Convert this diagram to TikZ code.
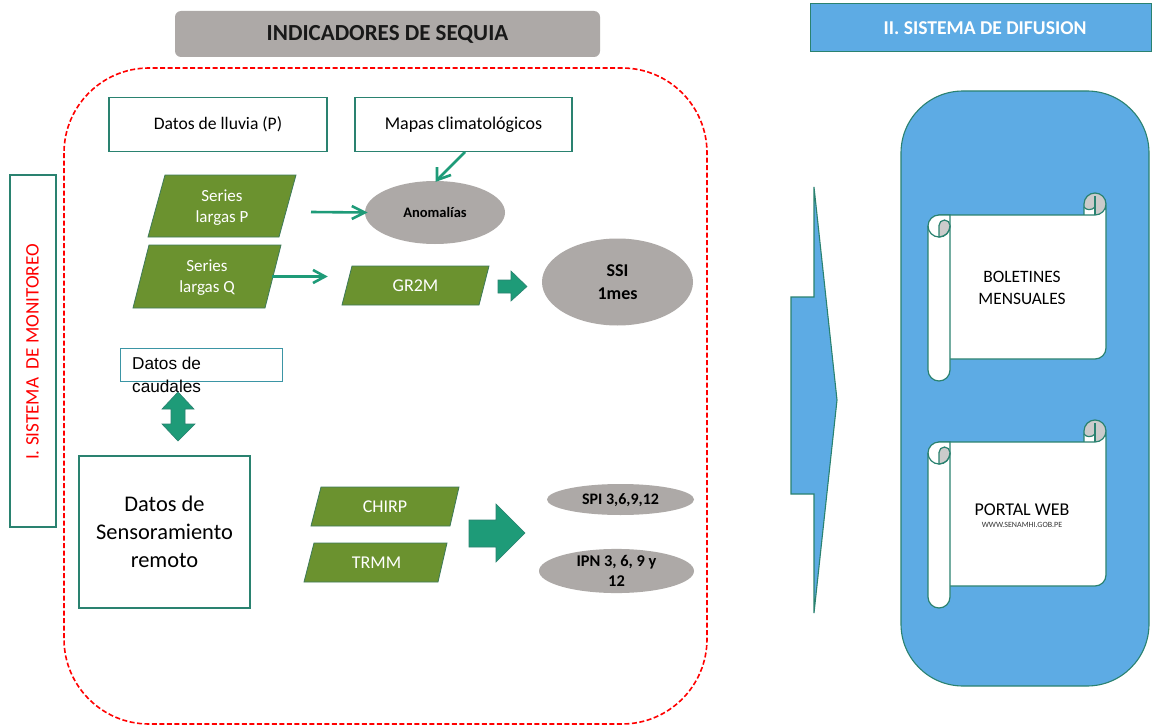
\documentclass[tikz,border=0pt]{standalone}
\usepackage{fontspec}
\setmainfont{Carlito}
\newfontfamily\arialf{Liberation Sans}
\usetikzlibrary{shapes.geometric}
\definecolor{tealline}{HTML}{2A8270}
\definecolor{teal2}{HTML}{1E9B78}
\definecolor{greenfill}{HTML}{6B922F}
\definecolor{greenline}{HTML}{3E7A5A}
\definecolor{greyfill}{HTML}{ADA9A7}
\definecolor{bluefill}{HTML}{5DABE4}
\definecolor{rollgrey}{HTML}{CBCBCB}
\definecolor{caudline}{HTML}{3B95A5}
\tikzset{
  x=1pt,y=-1pt,
  boxw/.style={draw=tealline,fill=white,line width=1.2pt,align=center,text=black},
  para/.style={draw=greenline,fill=greenfill,line width=.8pt},
  paralabel/.style={text=white,align=center,font=\fontsize{17}{21}\selectfont},
  oval/.style={shape=ellipse,fill=greyfill,inner sep=0pt,align=center,text=black},
  flow/.style={draw=teal2,line width=2.6pt},
  block/.style={draw=tealline,fill=teal2,line width=.6pt},
  rollline/.style={draw=tealline,line width=1.2pt},
}
% angles below: y axis points down, so 270 is up on the page
\newcommand{\scrollat}[2]{%
  \begin{scope}[shift={(#1,#2)}]
    % top right roll
    \fill[rollgrey] (167,11) circle[radius=11];
    \fill[white] (156,22) -- (156,14) .. controls (158,17.5) and (164,17.5) .. (167,14) -- (167,22) -- cycle;
    \draw[rollline] (156,22) -- (156,11) arc[start angle=180,end angle=360,radius=11];
    \draw[rollline] (156,14) .. controls (158,17.5) and (164,17.5) .. (167,14);
    \draw[rollline] (167,3) -- (167,22);
    % body
    \draw[rollline,fill=white] (11,22) -- (167,22) arc[start angle=90,end angle=0,radius=11] -- (178,155) arc[start angle=0,end angle=90,radius=11] -- (11,166) -- cycle;
    % left roll
    \draw[rollline,fill=white] (0,33) arc[start angle=180,end angle=270,radius=11] -- (22,22) -- (22,177) arc[start angle=0,end angle=180,radius=11] -- cycle;
    \draw[rollline,fill=rollgrey] (11,44) -- (11,32.5) arc[start angle=180,end angle=360,radius=5.5] -- (22,33) arc[start angle=0,end angle=90,radius=11] -- cycle;
    \draw[rollline] (0,33) arc[start angle=180,end angle=0,radius=11];
  \end{scope}}
\begin{document}
\begin{tikzpicture}
\useasboundingbox (0,0) rectangle (1152,725);
\fill[white] (0,0) rectangle (1152,725);

% Title bars
\node[fill=greyfill,rounded corners=6pt,minimum width=425pt,minimum height=46pt,inner sep=0pt,font=\bfseries\fontsize{23}{27}\selectfont,text=black!90] (title) at (387.5,34) {INDICADORES DE SEQUIA};
\node[draw=tealline,fill=bluefill,line width=.9pt,minimum width=341pt,minimum height=48pt,inner sep=0pt] (difusion) at (980.5,27) {};
\node[inner sep=0pt,font=\bfseries\fontsize{19.6}{23}\selectfont,text=white] (difusiont) at (985,28) {II. SISTEMA DE DIFUSION};

% Dashed frame
\draw[red,line width=1.6pt,dash pattern=on 5pt off 2.5pt,rounded corners=85pt] (64,68) rectangle (707,724);

% Left label
\node[draw=tealline,line width=1.2pt,minimum width=46pt,minimum height=352pt,inner sep=0pt] (monbox) at (33,351) {};
\node[rotate=90,text=red,font=\fontsize{19.1}{23}\selectfont] (monlabel) at (32.5,352) {I. SISTEMA\ \ DE MONITOREO};

% Top boxes
\node[boxw,minimum width=218pt,minimum height=54pt,inner sep=0pt,font=\fontsize{17.6}{21}\selectfont] (lluvia) at (218,124.5) {Datos de lluvia (P)};
\node[boxw,minimum width=217pt,minimum height=54pt,inner sep=0pt,font=\fontsize{18}{21}\selectfont] (mapas) at (463.5,124.5) {Mapas climatológicos};

% Parallelograms
\draw[para] (148,237) -- (165,175) -- (296,175) -- (279,237) -- cycle;
\node[paralabel] (serp) at (222,208) {Series\\largas P};
\draw[para] (133,308) -- (149,245) -- (281,245) -- (265,308) -- cycle;
\node[paralabel] (serq) at (207,278) {Series\\largas Q};
\draw[para] (342,305) -- (352,266) -- (489,266) -- (479,305) -- cycle;
\node[paralabel,font=\fontsize{18}{22}\selectfont] (gr) at (415.5,286) {GR2M};
\draw[para] (311,526) -- (321,487) -- (459,487) -- (450,526) -- cycle;
\node[paralabel,font=\fontsize{18}{22}\selectfont] (chirp) at (385,507) {CHIRP};
\draw[para] (304,582) -- (314,543) -- (447,543) -- (438,582) -- cycle;
\node[paralabel,font=\fontsize{18}{22}\selectfont] (trmm) at (376.5,563) {TRMM};

% Ovals
\node[oval,minimum width=140pt,minimum height=63pt,font=\bfseries\fontsize{14.5}{17}\selectfont] (anom) at (435,212.5) {Anomalías};
\node[oval,minimum width=151pt,minimum height=87pt,font=\bfseries\fontsize{18}{23}\selectfont] (ssi) at (617.5,282) {SSI\\1mes};
\node[oval,minimum width=147pt,minimum height=31pt,font=\bfseries\fontsize{16}{18}\selectfont] (spi) at (620.5,499.5) {\raisebox{-5pt}[0pt][0pt]{SPI 3,6,9,12}};
\node[oval,minimum width=155pt,minimum height=40pt,font=\bfseries\fontsize{16.4}{20}\selectfont] (ipn) at (616.5,571) {IPN 3, 6, 9 y\\12};

% Connectors
\coordinate (pstart) at (311,212);
\coordinate (qstart) at (272,276.5);
\coordinate (qend) at (325,276.5);
\coordinate (mstart) at (465,152);
\coordinate (mend) at (437,180);
\draw[flow] (pstart) -- (anom.west);
\draw[flow,line join=miter] (anom.west) ++(-13,-6.5) -- (anom.west) -- ++(-13,6.5);
\draw[flow] (qstart) -- (qend);
\draw[flow,line join=miter] (qend) ++(-12,-6.5) -- (qend) -- ++(-12,6.5);
\draw[flow] (mstart) -- (mend);
\draw[flow,line join=miter] (mend) ++(0,-13) -- (mend) -- ++(14,-5);

% Block arrows
\draw[block] (498,280) -- (511,280) -- (511,271) -- (527,286.5) -- (511,301) -- (511,293) -- (498,293) -- cycle;
\draw[block] (469,520) -- (496,520) -- (496,504) -- (525,533) -- (496,562) -- (496,547) -- (469,547) -- cycle;

% Datos de caudales
\node[draw=caudline,fill=white,line width=.9pt,minimum width=162pt,minimum height=33pt,inner sep=0pt] (caud) at (201,364.5) {};
\node[anchor=north west,inner sep=0pt,align=left,font=\arialf\fontsize{17.2}{22.5}\selectfont,text=black] (caudt) at (132,357) {Datos de\\caudales};
\draw[block] (178,392) -- (194,409) -- (185,409) -- (185,424) -- (195,424) -- (178,441) -- (162,424) -- (171,424) -- (171,409) -- (162,409) -- cycle;

% Sensoramiento
\node[boxw,minimum width=171pt,minimum height=152pt,inner sep=0pt,font=\fontsize{22.4}{28}\selectfont] (sens) at (164.5,532) {Datos de\\Sensoramiento\\remoto};

% Big arrow
\draw[draw=tealline,fill=bluefill,line width=1.1pt] (814,187) -- (837,400) -- (814,613) -- (814,494) -- (791,494) -- (791,297) -- (814,297) -- cycle;

% Blue panel
\draw[draw=tealline,fill=bluefill,line width=1.1pt,rounded corners=62pt] (901,91) rectangle (1149,686);

% Scrolls
\scrollat{928}{193}
\scrollat{928}{420}
\node[align=center,font=\fontsize{17.4}{22}\selectfont,text=black] (bol) at (1022,287.5) {BOLETINES\\MENSUALES};
\node[font=\fontsize{18}{20}\selectfont,text=black] (web) at (1022,510) {PORTAL WEB};
\node[font=\fontsize{8}{9}\selectfont,text=black!80] (url) at (1022,525) {WWW.SENAMHI.GOB.PE};
\end{tikzpicture}
\end{document}
